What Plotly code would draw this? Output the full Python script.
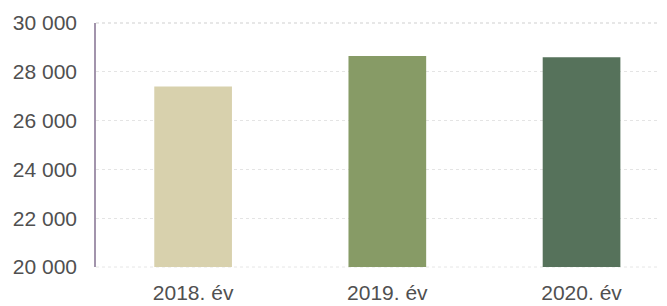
import plotly.graph_objects as go

categories = ["2018. év", "2019. év", "2020. év"]
values = [27400, 28650, 28600]
colors = ["#d8d1ad", "#879b66", "#56725b"]
y_ticks = [20000, 22000, 24000, 26000, 28000, 30000]

fig = go.Figure(go.Bar(
    x=categories, y=values, marker=dict(color=colors, line=dict(width=0)),
    width=0.4,
))

fig.update_layout(
    width=667, height=306,
    margin=dict(l=88, r=8, t=15, b=47),
    paper_bgcolor="white", plot_bgcolor="white",
    separators=", ",
    showlegend=False,
    font=dict(family="Liberation Sans, Arial, sans-serif", size=21, color="#505050"),
    bargap=0.6,
    shapes=[
        dict(type="line", xref="paper", yref="paper", x0=0, x1=1, y0=1, y1=1,
             line=dict(color="#cfcfcf", width=1, dash="dot")),
        dict(type="line", xref="paper", yref="paper", x0=0, x1=1, y0=0, y1=0,
             line=dict(color="#e6e6e6", width=1, dash="dot"), layer="below"),
    ],
)
fig.update_xaxes(
    range=[-0.5, 2.44], showgrid=False, showline=False, zeroline=False,
    ticks="outside", ticklen=7, tickcolor="rgba(0,0,0,0)", automargin=False,
    tickfont=dict(size=21, color="#505050"),
)
fig.update_yaxes(
    range=[20000, 30000], tickvals=y_ticks, tickformat=",d",
    showgrid=True, gridcolor="#e4e4e4", griddash="dot", gridwidth=1,
    showline=True, linecolor="#a294ac", linewidth=1.5,
    zeroline=False, ticks="outside", ticklen=13, tickcolor="rgba(0,0,0,0)",
    automargin=False,
    tickfont=dict(size=21, color="#505050"),
)

fig.write_html("out.html")
